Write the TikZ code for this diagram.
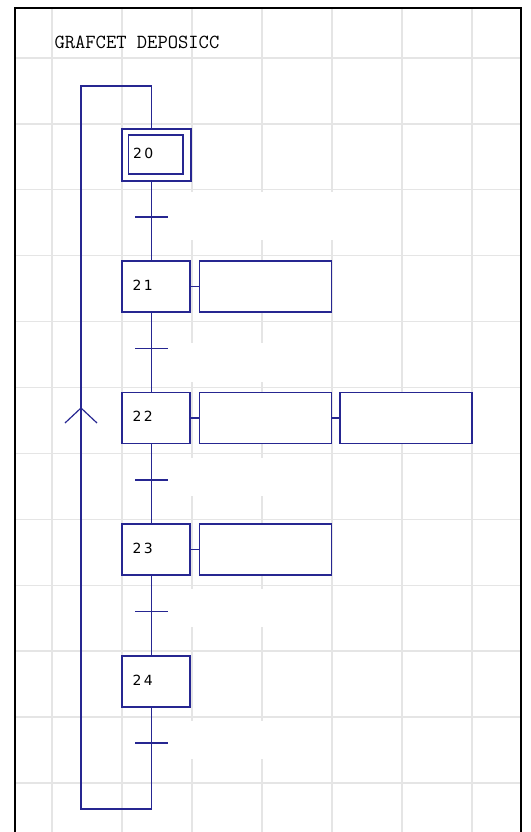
\documentclass[tikz,border=0pt]{standalone}
\usepackage{fontspec}
\usepackage{tikz}
\usetikzlibrary{positioning}
\definecolor{grafblue}{RGB}{38,38,145}
\newfontfamily\numfont[LetterSpace=18]{DejaVu Sans}

\begin{document}
\begin{tikzpicture}[x=1pt, y=-1pt,
  wire/.style={draw=grafblue, line width=1.5pt},
  stepbox/.style={wire, fill=white, minimum width=68pt, minimum height=51pt, text width=47pt, inner xsep=10.5pt, inner ysep=0pt, align=left, font=\numfont\fontsize{14}{16}\selectfont},
  actbox/.style={wire, fill=white, minimum width=132pt, minimum height=51pt, inner sep=0pt},
  tbar/.style={minimum width=32pt, minimum height=0pt, inner sep=0pt},
  gridline/.style={gray!20, line width=1.3pt},
  frame/.style={black, line width=2pt}]
\useasboundingbox (0,0) rectangle (530,832);
\foreach \gx in {52,122,...,472}
  \draw[gridline] (\gx,8) -- (\gx,832);
\foreach \k in {0,...,11}
  \draw[gridline] (15,{58+65.9*\k}) -- (521,{58+65.9*\k});
\fill[white] (175,192) rectangle (345,240);
\fill[white] (175,343) rectangle (300,382);
\fill[white] (175,458) rectangle (300,496);
\fill[white] (175,589) rectangle (300,627);
\fill[white] (175,721) rectangle (300,759);
\draw[frame] (15,832) |- (521,8) -- (521,832);
\node[anchor=base west, font=\ttfamily\fontsize{20}{20}\selectfont\addfontfeature{LetterSpace=4.7}] (title) at (51,49) {GRAFCET DEPOSICC};

\node[stepbox, minimum width=69pt, minimum height=52pt] (s20) at (156.5,155) {\raisebox{2.5pt}{20}};
\draw[wire] ([shift={(7,7)}]s20.north west) rectangle ([shift={(-9,-8)}]s20.south east);
\node[stepbox] (s21) at (156,286.5) {\raisebox{2.5pt}{21}};
\node[stepbox] (s22) at (156,418) {\raisebox{2.5pt}{22}};
\node[stepbox] (s23) at (156,549.5) {\raisebox{2.5pt}{23}};
\node[stepbox] (s24) at (156,681.5) {\raisebox{2.5pt}{24}};

\node[actbox, right=8pt of s21] (a21) {};
\node[actbox, right=8pt of s22] (a22) {};
\node[actbox, right=7pt of a22] (b22) {};
\node[actbox, right=8pt of s23] (a23) {};
\draw[wire] (s21.east) -- (a21.west);
\draw[wire] (s22.east) -- (a22.west);
\draw[wire] (a22.east) -- (b22.west);
\draw[wire] (s23.east) -- (a23.west);

\foreach \i/\ty in {1/217,2/348.5,3/480,4/611.5,5/743} {
  \node[tbar] (t\i) at (151.5,\ty) {};
  \draw[wire] (t\i.west) -- (t\i.east);
}
\draw[wire] (s20.south -| t1) -- (s21.north -| t1);
\draw[wire] (s21.south -| t2) -- (s22.north -| t2);
\draw[wire] (s22.south -| t3) -- (s23.north -| t3);
\draw[wire] (s23.south -| t4) -- (s24.north -| t4);

\coordinate (lb) at (81,809);
\coordinate (lt) at (81,86);
\coordinate (up) at (81,408);
\draw[wire] (s24.south -| t5) -- (t5 |- lb) -- (lb) -- (lt) -- (lt -| t5) -- (s20.north -| t5);
\draw[wire, line width=1.2pt] ([shift={(-16,15)}]up) -- (up) -- ([shift={(16,15)}]up);
\end{tikzpicture}
\end{document}
